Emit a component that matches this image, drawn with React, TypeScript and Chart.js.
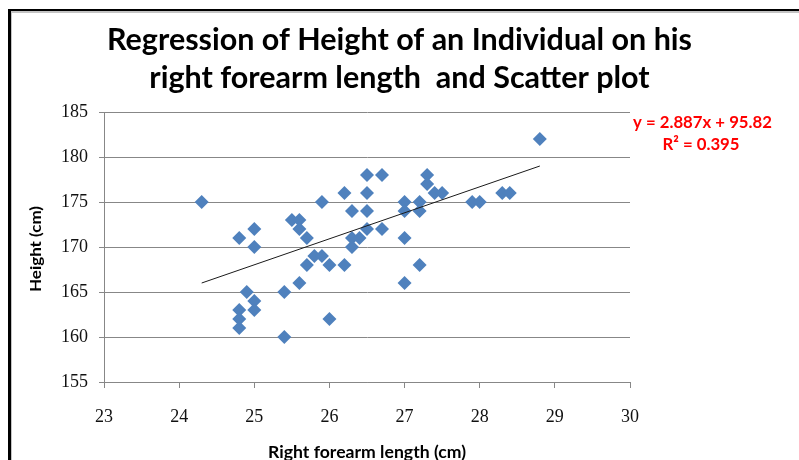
import React, { useEffect, useRef } from "react";
import { Chart, registerables } from "chart.js";

Chart.register(...registerables);

// ---- data ----
const forearmLength = [
  24.3, 24.8, 24.8, 24.8, 24.8, 24.9, 25.0, 25.0, 25.0, 25.0,
  25.4, 25.4, 25.5, 25.6, 25.6, 25.6, 25.7, 25.7, 25.8, 25.9,
  25.9, 26.0, 26.0, 26.2, 26.2, 26.3, 26.3, 26.3, 26.4, 26.5,
  26.5, 26.5, 26.5, 26.7, 26.7, 27.0, 27.0, 27.0, 27.0, 27.2,
  27.2, 27.2, 27.3, 27.3, 27.4, 27.5, 27.9, 28.0, 28.3, 28.4,
  28.8,
];
const heightCm = [
  175, 171, 163, 162, 161, 165, 172, 170, 164, 163,
  165, 160, 173, 173, 172, 166, 171, 168, 169, 169,
  175, 168, 162, 176, 168, 174, 171, 170, 171, 178,
  176, 174, 172, 178, 172, 175, 174, 171, 166, 175,
  174, 168, 178, 177, 176, 176, 175, 175, 176, 176,
  182,
];
const trendX = [24.3, 28.8];
const trendY = [166.0, 179.0];

const xMin = 23;
const xMax = 30;
const xStep = 1;
const yMin = 155;
const yMax = 185;
const yStep = 5;

const titleLines = [
  "Regression of Height of an Individual on his",
  "right forearm length  and Scatter plot",
];
const xAxisTitle = "Right forearm length (cm)";
const yAxisTitle = "Height (cm)";
const equationLines = ["y = 2.887x + 95.82", "R\u00B2 = 0.395"];

const SANS = "Lato, 'Open Sans', sans-serif";
const CAP = 0.717; // Lato cap height ratio

// draw text with a given cap height, horizontally scaled to a given width
function drawFit(
  ctx: CanvasRenderingContext2D,
  text: string,
  cx: number,
  baseline: number,
  width: number,
  capH: number,
  rotate = false
) {
  const size = capH / CAP;
  ctx.font = `bold ${size}px ${SANS}`;
  const w = ctx.measureText(text).width;
  const sx = width / w;
  ctx.save();
  ctx.translate(cx, baseline);
  if (rotate) ctx.rotate(-Math.PI / 2);
  ctx.scale(sx, 1);
  ctx.textAlign = "center";
  ctx.textBaseline = "alphabetic";
  ctx.fillText(text, 0, 0);
  ctx.restore();
  return sx;
}

const decorPlugin = {
  id: "decor",
  afterDraw(chart: any) {
    const ctx: CanvasRenderingContext2D = chart.ctx;
    ctx.save();
    // frame
    ctx.fillStyle = "#000";
    ctx.fillRect(8, 9, 799 - 8, 2);
    ctx.fillRect(8, 9, 3, 460 - 9);
    ctx.fillStyle = "#c4c4c4";
    ctx.fillRect(11, 11, 799 - 11, 2);
    ctx.fillRect(11, 11, 1, 460 - 11);

    // title (line 2 uses same horizontal scale as line 1)
    ctx.fillStyle = "#000";
    const sx = drawFit(ctx, titleLines[0], 399.5, 50, 585, 21.5);
    const size = 21.5 / CAP;
    ctx.font = `bold ${size}px ${SANS}`;
    const w2 = ctx.measureText(titleLines[1]).width * sx;
    drawFit(ctx, titleLines[1], 399.5, 88, w2, 21.5);

    // axis titles
    drawFit(ctx, xAxisTitle, 367, 458, 198, 12.2);
    drawFit(ctx, yAxisTitle, 41, 249, 86, 11.5, true);

    // equation
    ctx.fillStyle = "#ff0000";
    const esx = drawFit(ctx, equationLines[0], 702.5, 128, 139, 12.8);
    ctx.font = `bold ${12.8 / CAP}px ${SANS}`;
    const we = ctx.measureText(equationLines[1]).width * esx;
    drawFit(ctx, equationLines[1], 701, 150, we, 12.8);
    ctx.restore();
  },
};

export default function App() {
  const ref = useRef<HTMLCanvasElement | null>(null);

  useEffect(() => {
    if (!ref.current) return;
    const gridColor = "#878787";
    const tickFont = { family: "'Liberation Serif', serif", size: 18 };
    const chart = new Chart(ref.current, {
      type: "scatter",
      data: {
        datasets: [
          {
            label: "Trend",
            data: trendX.map((x, i) => ({ x, y: trendY[i] })),
            showLine: true,
            borderColor: "#1a1a1a",
            borderWidth: 1,
            pointRadius: 0,
            fill: false,
          },
          {
            label: "Height",
            data: forearmLength.map((x, i) => ({ x, y: heightCm[i] })),
            pointStyle: "rectRot",
            pointRadius: 7,
            pointHoverRadius: 7,
            backgroundColor: "#4F81BD",
            borderColor: "#4F81BD",
            borderWidth: 0,
          },
        ],
      },
      options: {
        animation: false,
        responsive: false,
        devicePixelRatio: 1,
        layout: { padding: { top: 112, right: 169, left: 0, bottom: 0 } },
        plugins: {
          legend: { display: false },
          tooltip: { enabled: false },
          title: { display: false },
        },
        scales: {
          x: {
            type: "linear",
            min: xMin,
            max: xMax,
            ticks: {
              stepSize: xStep,
              font: tickFont,
              color: "#111",
              padding: 18,
            },
            grid: {
              drawOnChartArea: false,
              drawTicks: true,
              tickLength: 6,
              color: gridColor,
            },
            border: { display: true, color: gridColor },
            afterFit: (s: any) => {
              s.height = 78;
              s.paddingLeft = 0;
              s.paddingRight = 0;
            },
          },
          y: {
            type: "linear",
            min: yMin,
            max: yMax,
            ticks: {
              stepSize: yStep,
              font: tickFont,
              color: "#111",
              padding: 11,
            },
            grid: {
              drawTicks: true,
              tickLength: 5,
              color: gridColor,
            },
            border: { display: true, color: gridColor },
            afterFit: (s: any) => {
              s.width = 104;
              s.paddingTop = 0;
              s.paddingBottom = 0;
            },
          },
        },
      } as any,
      plugins: [decorPlugin],
    });
    return () => chart.destroy();
  }, []);

  return (
    <div
      style={{
        position: "fixed",
        left: 0,
        top: 0,
        width: 799,
        height: 460,
        background: "#fff",
      }}
    >
      <canvas ref={ref} width={799} height={460} />
    </div>
  );
}
